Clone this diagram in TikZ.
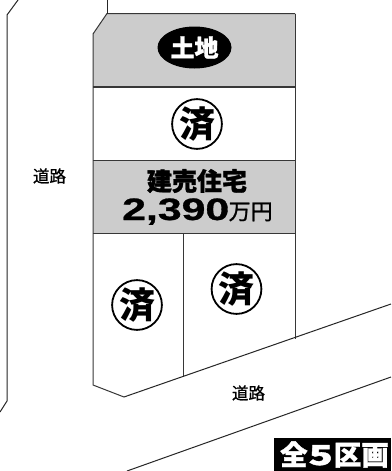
\documentclass[tikz,border=0pt]{standalone}
\usepackage{fontspec}
\usepackage{graphicx}
\usetikzlibrary{shapes.geometric}
\newfontfamily\jp{Noto Sans CJK JP}
\newfontfamily\jpmed{Noto Sans CJK JP}[FakeBold=1]
\newfontfamily\jpheavy{Noto Sans CJK JP}[BoldFeatures={FakeBold=1.2}]
\newcommand{\jpb}{\jpheavy\bfseries}
\setmainfont{Liberation Sans}[BoldFeatures={FakeBold=0.8}]
\definecolor{lotgray}{RGB}{204,204,204}
\definecolor{lineg}{RGB}{55,55,55}
\tikzset{
  lot/.style={draw=lineg,line width=1pt},
  road/.style={draw=black!85,line width=1pt},
  sold/.style={circle,draw=black,line width=1.8pt,minimum size=46pt,inner sep=0pt,fill=white,font=\jp\bfseries\fontsize{36}{36}\selectfont},
  roadlabel/.style={font=\jpmed\fontsize{16.5}{17}\selectfont,inner sep=0pt},
}
\begin{document}
\begin{tikzpicture}[x=1pt,y=-1pt]
\useasboundingbox (0,0) rectangle (391,471);
\fill[white] (0,0) rectangle (391,471);
\fill[lotgray] (107,13.5) -- (295,13.5) -- (295,87) -- (93,87) -- (93,34) -- cycle;
\fill[lotgray] (93,160) rectangle (295,233);
% coordinates
\coordinate (tl) at (107,13.5);
\coordinate (tr) at (295,13.5);
\coordinate (sl) at (93,34);
\coordinate (bl) at (93,385);
\coordinate (bm) at (124,397);
\coordinate (mb) at (183,377);
\coordinate (br) at (295,338.5);
\coordinate (mt) at (183,233);
% lot outline
\draw[lot] (tr) -- (tl) -- (sl) -- (bl) -- (bm);
\draw[lot] (tr) -- (br);
\draw[lot,line width=1.3pt] (93,87) -- (295,87);
\draw[lot,line width=.8pt] (93,160) -- (295,160);
\draw[lot] (93,233) -- (295,233);
\draw[lot] (mt) -- (mb);
% roads
\draw[road] (tl) -- (107,0);
\draw[road] (bm) -- (391,304);
\draw[road] (127,471) -- (391,377);
\draw[road] (18,0) -- (7,15) -- (7,401) -- (0,412);
% labels
\node[ellipse,fill=black,minimum width=74pt,minimum height=42pt,inner sep=0pt,text=white,font=\jpb\fontsize{24}{24}\selectfont] (land) at (194.5,47.5) {土地};
\node[sold] (s1) at (197,124) {済};
\node[sold] (s2) at (137,305) {済};
\node[sold] (s3) at (236.5,289) {済};
\node[inner sep=0pt,font=\jpb\fontsize{25}{25}\selectfont] (kind) at (197,181) {建売住宅};
\node[inner sep=0pt,anchor=base west,font=\bfseries\fontsize{31}{31}\selectfont] (price) at (122,220) {\scalebox{1.38}[1]{2,390}};
\node[inner sep=0pt,anchor=base west,font=\jpmed\fontsize{22}{22}\selectfont] (unit) at (228.5,219.5) {万円};
\node[roadlabel] (r1) at (49.5,176) {道路};
\node[roadlabel] (r2) at (248.5,393) {道路};
\fill[black] (274,438) rectangle (391,471);
\node[inner sep=0pt,text=white,font=\jpb\fontsize{27.5}{28}\selectfont] (count) at (334.5,454.5) {全\hspace{1pt}\scalebox{1.45}[1]{5}\hspace{1pt}区画};
\end{tikzpicture}
\end{document}
